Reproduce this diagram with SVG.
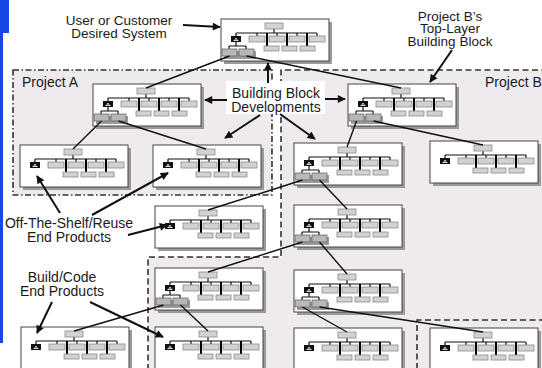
<svg xmlns="http://www.w3.org/2000/svg" width="542" height="368" viewBox="0 0 542 368">
<style>
.sh{fill:#9a9a9a}
.bx{fill:#fff;stroke:#444;stroke-width:1}
.g{fill:#d2d2d2;stroke:#8a8a8a;stroke-width:0.8}
.sb{fill:#b8b8b8;stroke:#6a6a6a;stroke-width:0.8}
.tl{stroke:#111;stroke-width:1.2;fill:none}
.tk{stroke:#000;stroke-width:2;fill:none}
.cn{stroke:#111;stroke-width:1.4;fill:none}
.ar{stroke:#111;stroke-width:2;fill:none;marker-end:url(#ah)}
.t{font-family:"Liberation Sans",Arial,sans-serif;font-size:14px;fill:#1a1a1a;text-anchor:middle}
.ts{font-size:13.5px}
.reg{fill:#eeeaee}
.bd{fill:none;stroke:#333;stroke-width:1.6}
</style>
<defs>
<marker id="ah" viewBox="0 0 10 10" refX="9" refY="5" markerWidth="10" markerHeight="8" markerUnits="userSpaceOnUse" orient="auto"><path d="M0,0 L10,5 L0,10 z" fill="#111"/></marker>
<g id="leaf">
 <rect class="sh" x="3" y="3" width="108" height="42"/>
 <rect class="bx" x="0" y="0" width="108" height="42"/>
 <path class="tl" d="M15,14 H96 M53,10 V14 M15,14 V17 M36,14 V17 M56,14 V17 M76,14 V17 M96,14 V17"/>
 <path class="tk" d="M46,14 V27 M66,14 V27 M86,14 V27"/>
 <rect class="g" x="44" y="4" width="18" height="6"/>
 <rect x="10" y="17" width="10" height="6" fill="#111"/>
 <path d="M12.5,21.5 H17.5 M13.5,21.5 L15,19 L16.5,21.5" stroke="#fff" stroke-width="0.8" fill="none"/>
 <rect class="g" x="28" y="17" width="16" height="6"/>
 <rect class="g" x="48" y="17" width="16" height="6"/>
 <rect class="g" x="68" y="17" width="16" height="6"/>
 <rect class="g" x="88" y="17" width="16" height="6"/>
 <rect class="g" x="43" y="27" width="15" height="5"/>
 <rect class="g" x="61" y="27" width="15" height="5"/>
 <rect class="g" x="79" y="27" width="15" height="5"/>
</g>
<g id="par">
 <use href="#leaf"/>
 <path class="tl" d="M15,23 V27 M8,27 H25 M8,27 V30 M25,27 V30"/>
 <rect class="sh" x="3" y="32" width="32" height="8"/>
 <rect class="sb" x="1" y="30" width="15" height="7"/>
 <rect class="sb" x="18" y="30" width="15" height="7"/>
</g>
</defs>
<rect width="542" height="368" fill="#fff"/>
<rect x="0" y="0" width="9" height="33" fill="#1747e6"/>
<rect x="0" y="0" width="3" height="343" fill="#1747e6"/>
<g id="regions">
 <rect class="reg" x="13" y="70" width="259" height="125"/>
 <path class="reg" d="M281,70 H545 V370 H148 V257 H281 Z"/>
 <rect class="bd" x="13" y="70" width="259" height="125" stroke-dasharray="6 2.5 1.5 2.5"/>
 <path class="bd" d="M148,370 V257 H281 V70 H545" stroke-dasharray="6 3.5"/>
 <path class="bd" d="M545,320 H417 V370" stroke-dasharray="6 3.5"/>
</g>
<rect x="226" y="81" width="99" height="33" fill="#fff"/>
<g id="n1" transform="translate(221,19)"><use href="#par"/></g>
<g id="n2" transform="translate(93,84)"><use href="#par"/></g>
<g id="n3" transform="translate(20,145)"><use href="#leaf"/></g>
<g id="n4" transform="translate(153,145)"><use href="#leaf"/></g>
<g id="n5" transform="translate(155,206)"><use href="#leaf"/></g>
<g id="n6" transform="translate(21,327)"><use href="#leaf"/></g>
<g id="n7" transform="translate(155,327)"><use href="#leaf"/></g>
<g id="n8" transform="translate(155,268)"><use href="#par"/></g>
<g id="n9" transform="translate(348,84)"><use href="#par"/></g>
<g id="n10" transform="translate(294,143)"><use href="#par"/></g>
<g id="n11" transform="translate(430,141)"><use href="#leaf"/></g>
<g id="n12" transform="translate(294,205)"><use href="#par"/></g>
<g id="n13" transform="translate(294,270)"><use href="#par"/></g>
<g id="n14" transform="translate(294,328)"><use href="#leaf"/></g>
<g id="n15" transform="translate(430,328)"><use href="#leaf"/></g>
<g id="connectors">
 <path class="cn" d="M229.5,56 L146,88"/>
 <path class="cn" d="M246.5,56 L401,88"/>
 <path class="cn" d="M101.5,121 L73,149"/>
 <path class="cn" d="M118.5,121 L206,149"/>
 <path class="cn" d="M356.5,121 L347,147"/>
 <path class="cn" d="M373.5,121 L483,145"/>
 <path class="cn" d="M302.5,180 L208,210"/>
 <path class="cn" d="M319.5,180 L347,209"/>
 <path class="cn" d="M302.5,242 L208,272"/>
 <path class="cn" d="M319.5,242 L347,274"/>
 <path class="cn" d="M163.5,305 L74,331"/>
 <path class="cn" d="M180.5,305 L208,331"/>
 <path class="cn" d="M302.5,307 L347,332"/>
 <path class="cn" d="M319.5,307 L483,332"/>
 <path class="ar" d="M183,25 L220,27"/>
 <path class="ar" d="M268,83 L268,63"/>
 <path class="ar" d="M227,100 L205,100"/>
 <path class="ar" d="M325,99 L345,99"/>
 <path class="ar" d="M260,115 L225,138"/>
 <path class="ar" d="M280,114 L315,139"/>
 <path class="ar" d="M452,50 L430,82"/>
 <path class="ar" d="M60,213 L37,176"/>
 <path class="ar" d="M92,215 L168,173"/>
 <path class="ar" d="M128,235 L167,225"/>
 <path class="ar" d="M52,302 L37,333"/>
 <path class="ar" d="M90,302 L163,337"/>
</g>
<g id="labels">
 <text class="t ts" x="119" y="25">User or Customer<tspan x="119" dy="13">Desired System</tspan></text>
 <text class="t" x="22" y="87" style="text-anchor:start">Project A</text>
 <text class="t" x="485" y="87" style="text-anchor:start">Project B</text>
 <text class="t" x="276" y="97.5">Building Block<tspan x="276" dy="14">Developments</tspan></text>
 <text class="t ts" x="450" y="20.5">Project B’s<tspan x="450" dy="12.5">Top-Layer</tspan><tspan x="450" dy="12.5">Building Block</tspan></text>
 <text class="t" x="69" y="228">Off-The-Shelf/Reuse<tspan x="69" dy="14">End Products</tspan></text>
 <text class="t" x="62" y="282">Build/Code<tspan x="62" dy="14">End Products</tspan></text>
</g>
</svg>
